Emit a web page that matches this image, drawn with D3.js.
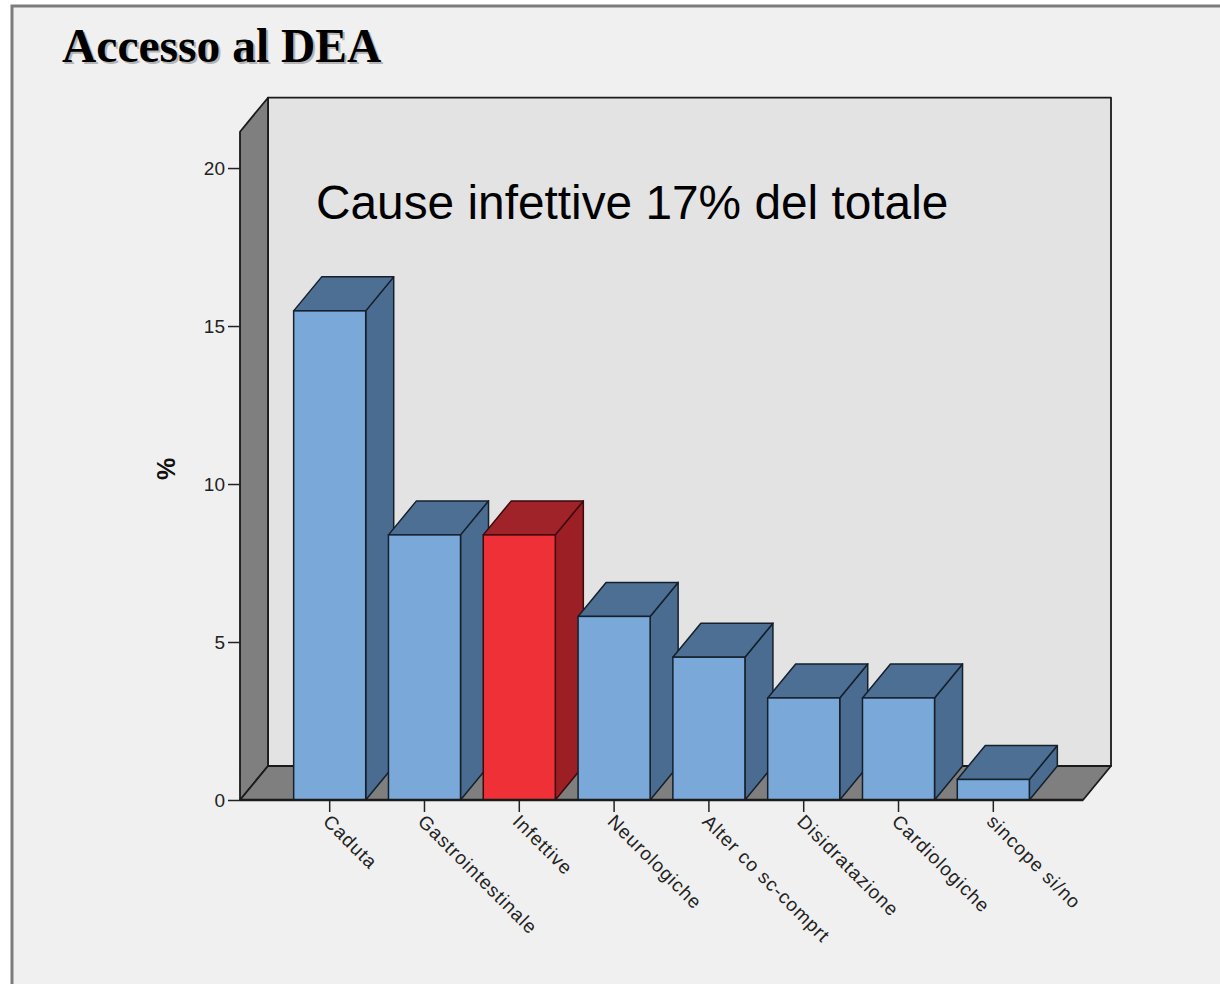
<!DOCTYPE html>
<html>
<head>
<meta charset="utf-8">
<script src="https://cdn.jsdelivr.net/npm/d3@7/dist/d3.min.js"></script>
<style>
  html, body { margin: 0; padding: 0; background: #ffffff; }
  svg { display: block; }
</style>
</head>
<body>
<div id="chart"></div>
<script>
// data
const categories = ["Caduta", "Gastrointestinale", "Infettive", "Neurologiche",
  "Alter co sc-comprt", "Disidratazione", "Cardiologiche", "sincope si/no"];
const values = [15.48, 8.39, 8.39, 5.81, 4.52, 3.23, 3.23, 0.65];
const highlight = ["Infettive"];
const yTicks = [0, 5, 10, 15, 20];
const title = "Accesso al DEA";
const note = "Cause infettive 17% del totale";
const yLabel = "%";

const W = 1220, H = 984;
const depth = {x: 28, y: -34};

let svg = d3.select('#chart').append('svg')
  .attr('width', W)
  .attr('height', H);

// frame
svg.append('rect')
  .attr('x', 12).attr('y', 6)
  .attr('width', W + 10).attr('height', H + 10)
  .attr('fill', '#f0f0f0')
  .attr('stroke', '#7c7c7c')
  .attr('stroke-width', 3);

// title with shadow
[['#b4b4b4', 2], ['#000000', 0]].forEach(function (s) {
  svg.append('text')
    .attr('x', 62 + s[1]).attr('y', 62 + s[1])
    .text(title)
    .style('font-family', '"Liberation Serif", "Times New Roman", serif')
    .style('font-weight', 'bold')
    .style('font-size', '47.5px')
    .style('fill', s[0]);
});

// scales
const x = d3.scaleBand()
  .domain(categories)
  .range([240, 1083])
  .paddingInner(0.24)
  .paddingOuter(0.566);

const y = d3.scaleLinear()
  .domain([0, 21.15])
  .range([800, 131.7]);

const x0 = x.range()[0], x1 = x.range()[1];
const y0 = y(0), yTop = y(y.domain()[1]);
const dx = depth.x, dy = depth.y;

let pts = p => p.map(d => d.join(',')).join(' ');

// back wall
svg.append('polygon')
  .attr('points', pts([[x0 + dx, yTop + dy], [x1 + dx, yTop + dy], [x1 + dx, y0 + dy], [x0 + dx, y0 + dy]]))
  .attr('fill', '#e3e3e3')
  .attr('stroke', '#1a1a1a')
  .attr('stroke-width', 1.8)
  .attr('stroke-linejoin', 'round');

// left wall
svg.append('polygon')
  .attr('points', pts([[x0, y0], [x0, yTop], [x0 + dx, yTop + dy], [x0 + dx, y0 + dy]]))
  .attr('fill', '#7f7f7f')
  .attr('stroke', '#1a1a1a')
  .attr('stroke-width', 1.8)
  .attr('stroke-linejoin', 'round');

// floor
svg.append('polygon')
  .attr('points', pts([[x0, y0], [x1, y0], [x1 + dx, y0 + dy], [x0 + dx, y0 + dy]]))
  .attr('fill', '#7f7f7f')
  .attr('stroke', '#1a1a1a')
  .attr('stroke-width', 1.8)
  .attr('stroke-linejoin', 'round');

// annotation
svg.append('text')
  .attr('x', 316).attr('y', 219)
  .text(note)
  .style('font-family', 'Arial, "Liberation Sans", sans-serif')
  .style('font-size', '47.8px')
  .style('fill', '#000');

// bars
const data = categories.map((c, i) => ({cat: c, value: values[i], hot: highlight.includes(c)}));
const colors = {
  cold: {front: '#7aa9d9', side: '#4a6c90', top: '#4d6f93', stroke: '#15202c'},
  hot: {front: '#ef3036', side: '#9c1f25', top: '#a0232a', stroke: '#3a0a0c'}
};

let bar = svg.selectAll('.bar')
  .data(data)
  .enter()
  .append('g')
  .attr('class', 'bar');

bar.each(function (d) {
  let g = d3.select(this), c = colors[d.hot ? 'hot' : 'cold'];
  let bx0 = x(d.cat), bx1 = x(d.cat) + x.bandwidth(), by = y(d.value);
  g.append('polygon')
    .attr('points', pts([[bx1, y0], [bx1, by], [bx1 + dx, by + dy], [bx1 + dx, y0 + dy]]))
    .attr('fill', c.side).attr('stroke', c.stroke).attr('stroke-width', 1.5)
    .attr('stroke-linejoin', 'round');
  g.append('polygon')
    .attr('points', pts([[bx0, by], [bx1, by], [bx1 + dx, by + dy], [bx0 + dx, by + dy]]))
    .attr('fill', c.top).attr('stroke', c.stroke).attr('stroke-width', 1.5)
    .attr('stroke-linejoin', 'round');
  g.append('rect')
    .attr('x', bx0).attr('y', by)
    .attr('width', x.bandwidth()).attr('height', y0 - by)
    .attr('fill', c.front).attr('stroke', c.stroke).attr('stroke-width', 1.5);
});

// front floor edge
svg.append('line')
  .attr('x1', x0).attr('x2', x1)
  .attr('y1', y0).attr('y2', y0)
  .attr('stroke', '#1a1a1a').attr('stroke-width', 2.5);

// y axis
let yAxis = svg.append('g')
  .attr('transform', 'translate(' + x0 + ',0)')
  .call(d3.axisLeft(y).tickValues(yTicks).tickSize(12).tickPadding(3));
yAxis.select('.domain').remove();
yAxis.selectAll('.tick line').attr('stroke', '#222').attr('stroke-width', 1.5);
yAxis.selectAll('.tick text')
  .style('font-family', 'Arial, "Liberation Sans", sans-serif')
  .style('font-size', '19px')
  .style('fill', '#222');

svg.append('text')
  .attr('transform', 'translate(175,469) rotate(-90)')
  .attr('text-anchor', 'middle')
  .text(yLabel)
  .style('font-family', 'Arial, "Liberation Sans", sans-serif')
  .style('font-weight', 'bold')
  .style('font-size', '25px')
  .style('fill', '#111');

// x axis
let xAxis = svg.append('g')
  .attr('transform', 'translate(0,' + (y0 + 1) + ')')
  .call(d3.axisBottom(x).tickSize(11).tickPadding(0));
xAxis.select('.domain').remove();
xAxis.selectAll('.tick line').attr('stroke', '#222').attr('stroke-width', 1.5);
xAxis.selectAll('.tick text')
  .attr('y', 0).attr('dy', null)
  .attr('text-anchor', 'start')
  .attr('transform', 'translate(2,12) rotate(45)')
  .attr('dy', '0.72em')
  .style('font-family', 'Arial, "Liberation Sans", sans-serif')
  .style('font-size', '19px')
  .style('letter-spacing', '1px')
  .style('fill', '#222');
</script>
</body>
</html>
